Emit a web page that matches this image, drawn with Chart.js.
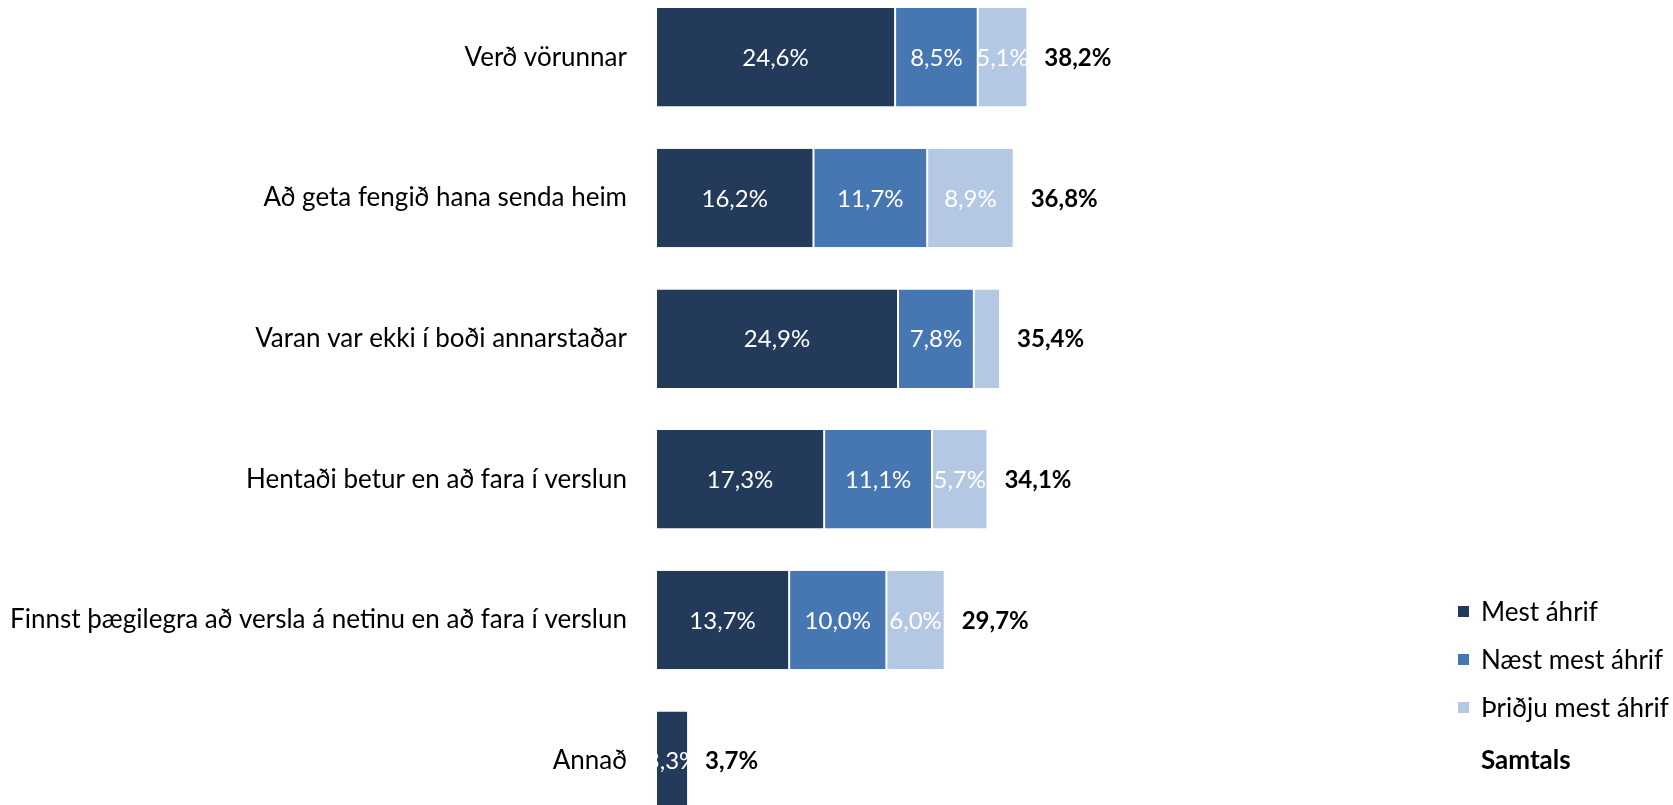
<!DOCTYPE html>
<html lang="is">
<head>
    <meta charset="UTF-8">
    <meta name="viewport" content="width=device-width, initial-scale=1.0">
    <title>Áhrif á netverslun</title>
    <script src="https://cdn.jsdelivr.net/npm/chart.js"></script>
    <style>
        html, body {
            margin: 0;
            padding: 0;
            background: #fff;
            width: 1673px;
            height: 805px;
            overflow: hidden;
        }

        #chart {
            position: absolute;
            left: 0;
            top: -13px;
        }

        #legend {
            position: absolute;
            left: 1458px;
            top: 587px;
            font-family: Lato, sans-serif;
            font-size: 26px;
            color: #000;
        }

        #legend .row {
            height: 48px;
            display: flex;
            align-items: center;
        }

        #legend .box {
            width: 11px;
            height: 11px;
            margin-right: 12px;
            display: inline-block;
        }

        #legend .total {
            font-weight: bold;
            margin-left: 23px;
            margin-top: 4px;
        }
    </style>
</head>
<body>
    <canvas id="chart" width="1673" height="844"></canvas>
    <div id="legend"></div>

    <script>
        const categories = [
            "Verð vörunnar",
            "Að geta fengið hana senda heim",
            "Varan var ekki í boði annarstaðar",
            "Hentaði betur en að fara í verslun",
            "Finnst þægilegra að versla á netinu en að fara í verslun",
            "Annað"
        ];
        const mestAhrif = [24.6, 16.2, 24.9, 17.3, 13.7, 3.3];
        const naestMestAhrif = [8.5, 11.7, 7.8, 11.1, 10.0, 0];
        const thridjuMestAhrif = [5.1, 8.9, 2.7, 5.7, 6.0, 0];
        const samtals = [38.2, 36.8, 35.4, 34.1, 29.7, 3.7];

        const seriesNames = ["Mest áhrif", "Næst mest áhrif", "Þriðju mest áhrif"];
        const totalName = "Samtals";
        const colors = ["#243a5a", "#4677b2", "#b4c8e4"];

        const FONT = "Lato, sans-serif";

        function fmt(v) {
            return v.toFixed(1).replace(".", ",") + "%";
        }

        // gildi inni í súlum + samtals aftan við
        const barLabels = {
            id: "barLabels",
            afterDatasetsDraw(chart) {
                const ctx = chart.ctx;
                ctx.save();
                ctx.textBaseline = "middle";
                chart.data.datasets.forEach((ds, i) => {
                    chart.getDatasetMeta(i).data.forEach((bar, j) => {
                        const v = ds.data[j];
                        if (v < 3) return;
                        const p = bar.getProps(["x", "y", "base", "height"], true);
                        ctx.save();
                        ctx.beginPath();
                        ctx.rect(p.base, p.y - p.height / 2, p.x - p.base, p.height);
                        ctx.clip();
                        ctx.fillStyle = "#fff";
                        ctx.font = "24px " + FONT;
                        ctx.textAlign = "center";
                        ctx.fillText(fmt(v), (p.x + p.base) / 2, p.y + 1);
                        ctx.restore();
                    });
                });

                ctx.fillStyle = "#000";
                ctx.font = "bold 24px " + FONT;
                ctx.textAlign = "left";
                samtals.forEach((t, j) => {
                    const end = mestAhrif[j] + naestMestAhrif[j] + thridjuMestAhrif[j];
                    const x = chart.scales.x.getPixelForValue(end) + 17;
                    const y = chart.scales.y.getPixelForValue(j);
                    ctx.fillText(fmt(t), x, y + 1);
                });
                ctx.restore();
            }
        };

        const seriesData = [mestAhrif, naestMestAhrif, thridjuMestAhrif];

        const chart = new Chart(document.getElementById("chart"), {
            type: "bar",
            data: {
                labels: categories,
                datasets: seriesData.map((d, i) => ({
                    label: seriesNames[i],
                    data: d,
                    backgroundColor: colors[i],
                    borderColor: "#fff",
                    borderWidth: { left: 1, right: 1, top: 0, bottom: 0 },
                    borderSkipped: false,
                    barPercentage: 0.7,
                    categoryPercentage: 1
                }))
            },
            options: {
                indexAxis: "y",
                responsive: false,
                animation: false,
                layout: { padding: { left: 0, right: 45, top: 0, bottom: 0 }, autoPadding: false },
                plugins: {
                    legend: { display: false },
                    tooltip: { enabled: false }
                },
                scales: {
                    x: {
                        stacked: true,
                        display: false,
                        min: 0,
                        max: 100,
                        afterFit(scale) {
                            scale.height = 0;
                        }
                    },
                    y: {
                        stacked: true,
                        grid: { display: false, drawTicks: false },
                        border: { display: false },
                        ticks: {
                            color: "#000",
                            padding: 29,
                            font: { family: FONT, size: 26 }
                        },
                        afterFit(scale) {
                            scale.width = 656;
                            scale.paddingTop = 0;
                            scale.paddingBottom = 0;
                        }
                    }
                }
            },
            plugins: [barLabels]
        });

        // skýringar
        const legend = document.getElementById("legend");
        seriesNames.forEach((name, i) => {
            const row = document.createElement("div");
            row.className = "row";
            row.innerHTML = '<span class="box" style="background:' + colors[i] + '"></span>' + name;
            legend.appendChild(row);
        });
        const totalRow = document.createElement("div");
        totalRow.className = "row total";
        totalRow.textContent = totalName;
        legend.appendChild(totalRow);
    </script>
</body>
</html>
